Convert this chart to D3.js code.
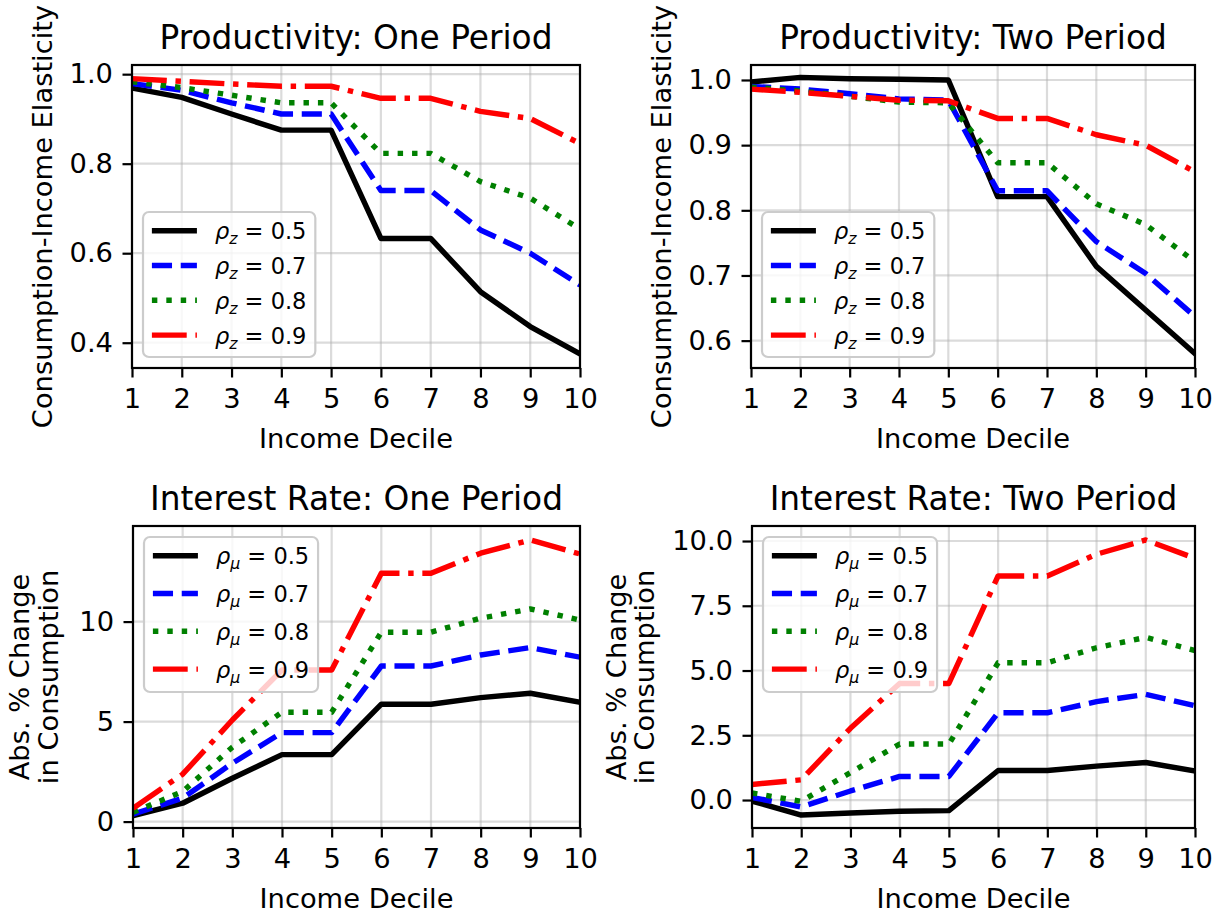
<!DOCTYPE html>
<html lang="en">
<head>
<meta charset="UTF-8">
<title>Consumption response by income decile</title>
<script src="https://d3js.org/d3.v7.min.js"></script>
<style>
    body { margin: 0; background: #fff; }
    svg { display: block; font-family: "DejaVu Sans", sans-serif; }
</style>
</head>
<body>
<svg width="1225" height="915"></svg>
<script>
// ---- data ----
const deciles = [1, 2, 3, 4, 5, 6, 7, 8, 9, 10];
const rhoLabels = ["0.5", "0.7", "0.8", "0.9"];

// Productivity: One Period (rho_z = 0.5, 0.7, 0.8, 0.9)
const prodOne = [
    [0.969, 0.948, 0.911, 0.875, 0.875, 0.633, 0.633, 0.514, 0.436, 0.375],
    [0.979, 0.964, 0.936, 0.911, 0.911, 0.740, 0.740, 0.652, 0.600, 0.529],
    [0.983, 0.970, 0.953, 0.936, 0.936, 0.823, 0.823, 0.760, 0.723, 0.654],
    [0.990, 0.984, 0.978, 0.973, 0.973, 0.946, 0.946, 0.917, 0.901, 0.845]
];
// Productivity: Two Period
const prodTwo = [
    [0.997, 1.004, 1.002, 1.001, 1.000, 0.821, 0.821, 0.714, 0.647, 0.580],
    [0.990, 0.986, 0.979, 0.971, 0.969, 0.830, 0.830, 0.752, 0.703, 0.637],
    [0.989, 0.983, 0.975, 0.966, 0.965, 0.873, 0.873, 0.810, 0.778, 0.721],
    [0.986, 0.981, 0.975, 0.969, 0.968, 0.941, 0.941, 0.916, 0.900, 0.859]
];
// Interest Rate: One Period (rho_mu)
const rateOne = [
    [0.30, 0.92, 2.17, 3.35, 3.35, 5.87, 5.87, 6.20, 6.42, 5.97],
    [0.37, 1.17, 2.92, 4.45, 4.45, 7.78, 7.78, 8.33, 8.70, 8.22],
    [0.47, 1.50, 3.72, 5.47, 5.47, 9.47, 9.47, 10.17, 10.63, 10.08],
    [0.67, 2.37, 5.08, 7.58, 7.58, 12.42, 12.42, 13.42, 14.08, 13.38]
];
// Interest Rate: Two Period
const rateTwo = [
    [-0.04, -0.58, -0.50, -0.43, -0.41, 1.14, 1.14, 1.31, 1.45, 1.12],
    [0.10, -0.27, 0.35, 0.91, 0.91, 3.37, 3.37, 3.80, 4.08, 3.64],
    [0.27, -0.05, 1.06, 2.16, 2.16, 5.30, 5.30, 5.88, 6.28, 5.77],
    [0.60, 0.78, 2.77, 4.50, 4.50, 8.65, 8.65, 9.49, 10.04, 9.33]
];

const prodOneTicks = [0.4, 0.6, 0.8, 1.0];
const prodTwoTicks = [0.6, 0.7, 0.8, 0.9, 1.0];
const rateOneTicks = [0, 5, 10];
const rateTwoTicks = [0, 2.5, 5, 7.5, 10];

// ---- styling ----
const lw = 5.44;
const seriesStyle = [
    { color: "#000000", dash: null },
    { color: "#0000ff", dash: [3.7 * lw, 1.6 * lw] },
    { color: "#008000", dash: [1 * lw, 1.65 * lw] },
    { color: "#ff0000", dash: [6.4 * lw, 1.6 * lw, 1 * lw, 1.6 * lw] }
];
const tickFont = 27.3, titleFont = 32.8, legendFont = 22.5;

const panels = [
    { title: "Productivity: One Period", series: prodOne, ticks: prodOneTicks, fmt: d3.format(".1f"),
      box: [132, 580, 65, 368], domain: [0.3435, 1.0205], ylabel: ["Consumption-Income Elasticity"], ylabelX: [52],
      sym: "z", legendAt: "lower", rowH: 34.8, legH: 145 },
    { title: "Productivity: Two Period", series: prodTwo, ticks: prodTwoTicks, fmt: d3.format(".1f"),
      box: [751, 1195, 65, 368], domain: [0.558, 1.023], ylabel: ["Consumption-Income Elasticity"], ylabelX: [671],
      sym: "z", legendAt: "lower", rowH: 34.8, legH: 145 },
    { title: "Interest Rate: One Period", series: rateOne, ticks: rateOneTicks, fmt: d3.format("d"),
      box: [133, 580, 526, 828], domain: [-0.32, 14.78], ylabel: ["Abs. % Change", "in Consumption"], ylabelX: [29, 58],
      sym: "\u03bc", legendAt: "upper", rowH: 37.8, legH: 155 },
    { title: "Interest Rate: Two Period", series: rateTwo, ticks: rateTwoTicks, fmt: d3.format(".1f"),
      box: [752, 1195, 526, 828], domain: [-1.08, 10.58], ylabel: ["Abs. % Change", "in Consumption"], ylabelX: [626, 654],
      sym: "\u03bc", legendAt: "upper", rowH: 37.8, legH: 155 }
];

const svg = d3.select("svg");

panels.forEach((p, pi) => {
    const [left, right, top, bottom] = p.box;
    const x = d3.scaleLinear().domain([1, 10]).range([left, right]);
    const y = d3.scaleLinear().domain(p.domain).range([bottom, top]);
    const g = svg.append("g");

    // grid
    const grid = g.append("g").attr("stroke", "#b0b0b0").attr("stroke-opacity", 0.45).attr("stroke-width", 2.2);
    grid.selectAll(".gx").data(deciles).join("line")
        .attr("x1", d => x(d)).attr("x2", d => x(d)).attr("y1", top).attr("y2", bottom);
    grid.selectAll(".gy").data(p.ticks).join("line")
        .attr("x1", left).attr("x2", right).attr("y1", d => y(d)).attr("y2", d => y(d));

    // lines
    const clipId = "clip" + pi;
    svg.append("clipPath").attr("id", clipId).append("rect")
        .attr("x", left).attr("y", top).attr("width", right - left).attr("height", bottom - top);
    const line = d3.line().x((d, i) => x(deciles[i])).y(d => y(d));
    g.append("g").attr("clip-path", `url(#${clipId})`)
        .selectAll("path").data(p.series).join("path")
        .attr("d", line)
        .attr("fill", "none")
        .attr("stroke", (d, i) => seriesStyle[i].color)
        .attr("stroke-width", lw)
        .attr("stroke-linejoin", "round")
        .attr("stroke-linecap", (d, i) => seriesStyle[i].dash ? "butt" : "square")
        .attr("stroke-dasharray", (d, i) => seriesStyle[i].dash ? seriesStyle[i].dash.join(",") : null);

    // axes
    const xAxis = g.append("g").attr("transform", `translate(0,${bottom})`)
        .call(d3.axisBottom(x).tickValues(deciles).tickFormat(d3.format("d")).tickSizeInner(9.5).tickSizeOuter(0).tickPadding(9.5));
    const yAxis = g.append("g").attr("transform", `translate(${left},0)`)
        .call(d3.axisLeft(y).tickValues(p.ticks).tickFormat(p.fmt).tickSizeInner(9.5).tickSizeOuter(0).tickPadding(9.5));
    [xAxis, yAxis].forEach(a => {
        a.select(".domain").remove();
        a.selectAll(".tick line").attr("stroke", "#000").attr("stroke-width", 2.2);
        a.selectAll(".tick text").attr("font-size", tickFont).attr("font-family", "DejaVu Sans").attr("fill", "#000");
    });
    xAxis.selectAll(".tick text").attr("dy", "0.78em");

    g.append("rect").attr("x", left).attr("y", top).attr("width", right - left).attr("height", bottom - top)
        .attr("fill", "none").attr("stroke", "#000").attr("stroke-width", 2.2);

    // titles and labels
    g.append("text").attr("x", (left + right) / 2).attr("y", top - 16)
        .attr("text-anchor", "middle").attr("font-size", titleFont).text(p.title);
    g.append("text").attr("x", (left + right) / 2).attr("y", bottom + 80)
        .attr("text-anchor", "middle").attr("font-size", tickFont).text("Income Decile");
    const midY = (top + bottom) / 2;
    p.ylabel.forEach((txt, k) => {
        g.append("text").attr("transform", `translate(${p.ylabelX[k]},${midY}) rotate(-90)`)
            .attr("text-anchor", "middle").attr("font-size", tickFont).text(txt);
    });

    // legend
    const lx = left + 11;
    const ly = p.legendAt === "lower" ? bottom - 11 - p.legH : top + 11;
    const leg = g.append("g");
    const frame = leg.append("rect").attr("x", lx).attr("y", ly).attr("height", p.legH)
        .attr("rx", 6).attr("fill", "#fff").attr("fill-opacity", 0.8)
        .attr("stroke", "#cccccc").attr("stroke-width", 2.2);
    let maxW = 0;
    rhoLabels.forEach((lab, i) => {
        const cy = ly + 18.7 + i * p.rowH;
        const hx0 = lx + 8.9, hx1 = hx0 + 2 * legendFont;
        const st = seriesStyle[i];
        leg.append("line").attr("x1", hx0 + (st.dash ? 0 : 2.7)).attr("x2", hx1 - (st.dash ? 0 : 2.7))
            .attr("y1", cy).attr("y2", cy)
            .attr("stroke", st.color).attr("stroke-width", lw)
            .attr("stroke-linecap", st.dash ? "butt" : "square")
            .attr("stroke-dasharray", st.dash ? st.dash.join(",") : null);
        const t = leg.append("text").attr("x", hx1 + 0.8 * legendFont).attr("y", cy + 8.6)
            .attr("font-size", legendFont).style("white-space", "pre");
        t.append("tspan").attr("font-style", "italic").text("\u03c1");
        t.append("tspan").attr("font-style", "italic").attr("font-size", legendFont * 0.7).attr("dy", 5).text(p.sym);
        t.append("tspan").attr("dy", -5).text(" = " + lab);
        maxW = Math.max(maxW, t.node().getComputedTextLength());
    });
    frame.attr("width", 8.9 + 2 * legendFont + 0.8 * legendFont + maxW + 8.9);
});
</script>
</body>
</html>
